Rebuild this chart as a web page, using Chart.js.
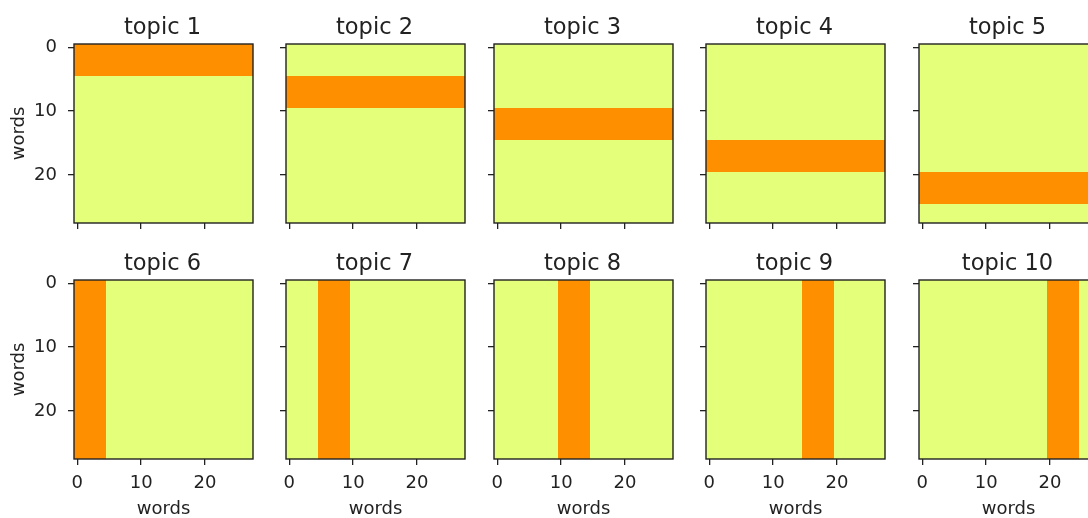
<!DOCTYPE html>
<html><head><meta charset="utf-8">
<script src="https://cdn.jsdelivr.net/npm/chart.js@4.4.0/dist/chart.umd.min.js"></script>
<style>
html,body{margin:0;padding:0;background:#fff;width:1088px;height:518px;overflow:hidden;position:relative}
canvas{position:absolute}
</style></head><body>
<script>
// ---- data ----
const gridSize = 28;                      // words 0..27 on both axes
const topicTitles = ['topic 1','topic 2','topic 3','topic 4','topic 5','topic 6','topic 7','topic 8','topic 9','topic 10'];
const bandOrientation = ['row','row','row','row','row','col','col','col','col','col'];
const bandStart = [0,5,10,15,20,0,5,10,15,20];
const bandWidth = 5;
const bandValue = 0.87;                   // normalised intensity inside the band
const baseValue = 0.0;                    // intensity elsewhere
const tickValues = [0,10,20];
const axisLabel = 'words';

// ---- layout ----
const colLefts = [74, 286, 494, 706, 919];
const rowTops = [44, 280];
const plotSize = 179;
const padTop = 45, yAxisW = 74, xAxisH = 60, padRight = 25;
const FONT = '"DejaVu Sans", "Liberation Sans", sans-serif';
const TXT = '#222';

// Wistia colormap (matplotlib)
const wistia = [[0,228,255,122],[0.25,255,232,26],[0.5,255,189,0],[0.75,255,160,0],[1,252,127,0]];
function cmap(v){
  v = Math.max(0, Math.min(1, v));
  for (let i=0;i<wistia.length-1;i++){
    const a=wistia[i], b=wistia[i+1];
    if (v<=b[0]){
      const t=(v-a[0])/(b[0]-a[0]);
      return `rgb(${Math.round(a[1]+(b[1]-a[1])*t)},${Math.round(a[2]+(b[2]-a[2])*t)},${Math.round(a[3]+(b[3]-a[3])*t)})`;
    }
  }
  return 'rgb(252,127,0)';
}

function topicCells(i){
  const cells=[];
  for (let r=0;r<gridSize;r++) for (let c=0;c<gridSize;c++){
    const k = bandOrientation[i]==='row' ? r : c;
    const inBand = k>=bandStart[i] && k<bandStart[i]+bandWidth;
    cells.push({x:c, y:r, v: inBand ? bandValue : baseValue});
  }
  return cells;
}

const heatPlugin = {
  id:'heat',
  beforeDatasetsDraw(chart){
    const {ctx, chartArea:a, scales:{x,y}} = chart;
    ctx.save();
    ctx.beginPath(); ctx.rect(a.left,a.top,a.right-a.left,a.bottom-a.top); ctx.clip();
    for (const d of chart.data.datasets[0].data){
      const x0=Math.round(x.getPixelForValue(d.x-0.5)), x1=Math.round(x.getPixelForValue(d.x+0.5));
      const y0=Math.round(y.getPixelForValue(d.y-0.5)), y1=Math.round(y.getPixelForValue(d.y+0.5));
      ctx.fillStyle=cmap(d.v);
      ctx.fillRect(Math.min(x0,x1),Math.min(y0,y1),Math.abs(x1-x0),Math.abs(y1-y0));
    }
    ctx.restore();
  },
  afterDraw(chart){
    const {ctx, chartArea:a} = chart;
    ctx.save();
    ctx.strokeStyle='#222'; ctx.lineWidth=1.4;
    ctx.strokeRect(a.left,a.top,a.right-a.left,a.bottom-a.top);
    ctx.fillStyle=TXT; ctx.font='22.5px '+FONT; ctx.textAlign='center'; ctx.textBaseline='alphabetic';
    ctx.fillText(chart.options.plugins.heat.title,(a.left+a.right)/2-1,a.top-10);
    ctx.restore();
  }
};

for (let i=0;i<10;i++){
  const row=Math.floor(i/5), col=i%5;
  const cv=document.createElement('canvas');
  const W=yAxisW+plotSize+padRight, H=padTop+plotSize+xAxisH;
  cv.width=W; cv.height=H;
  cv.style.left=(colLefts[col]-yAxisW)+'px';
  cv.style.top=(rowTops[row]-padTop)+'px';
  cv.style.width=W+'px'; cv.style.height=H+'px';
  document.body.appendChild(cv);
  const showX = row===1, showY = col===0;
  const tickFont={family:FONT,size:18};
  const grid={display:true,drawOnChartArea:false,drawTicks:true,tickLength:6,color:'#222',lineWidth:1.3};
  new Chart(cv,{
    type:'scatter',
    data:{datasets:[{data:topicCells(i),pointRadius:0,pointHoverRadius:0}]},
    options:{
      responsive:false,animation:false,devicePixelRatio:1,events:[],
      layout:{padding:{top:padTop,left:0,right:padRight,bottom:0}},
      plugins:{legend:{display:false},tooltip:{enabled:false},title:{display:false},heat:{title:topicTitles[i]}},
      scales:{
        x:{type:'linear',min:-0.5,max:gridSize-0.5,
          afterBuildTicks:s=>{s.ticks=tickValues.map(v=>({value:v}));},
          afterFit:s=>{s.height=xAxisH;},
          ticks:{callback:v=>showX?String(v):'',font:tickFont,color:TXT,padding:8,maxRotation:0,autoSkip:false},
          grid,border:{display:false},
          title:{display:showX,text:axisLabel,font:tickFont,color:TXT,padding:{top:0,bottom:-1}}},
        y:{type:'linear',reverse:true,min:-0.5,max:gridSize-0.5,
          afterBuildTicks:s=>{s.ticks=tickValues.map(v=>({value:v}));},
          afterFit:s=>{s.width=yAxisW;},
          ticks:{callback:v=>showY?String(v):'',font:tickFont,color:TXT,padding:11,autoSkip:false},
          grid,border:{display:false},
          title:{display:showY,text:axisLabel,font:tickFont,color:TXT,padding:{top:9,bottom:0}}}
      }
    },
    plugins:[heatPlugin]
  });
}
</script>
</body></html>
